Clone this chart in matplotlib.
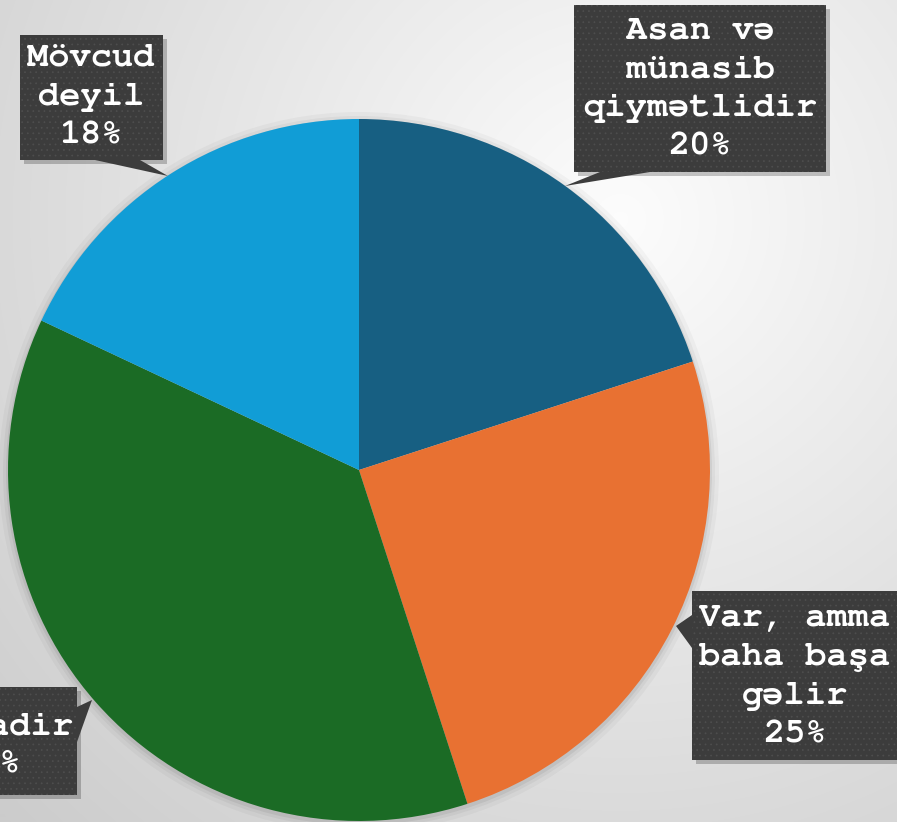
import matplotlib
matplotlib.use('Agg')

import numpy as np
import matplotlib.pyplot as plt
from matplotlib.patches import Rectangle, Polygon, Circle

# -------------------------
# Data
# -------------------------
labels = ["Asan və\nmünasib\nqiymətlidir", "Var, amma\nbaha başa\ngəlir", "Zəifadir", "Mövcud\ndeyil"]
shares = [20, 25, 37, 18]
colors = ["#175f82", "#e87132", "#1b6b25", "#119dd6"]

W, H = 897, 822

plt.rcParams['hatch.linewidth'] = 0.5

fig = plt.figure(figsize=(W / 100, H / 100), dpi=100)
ax = fig.add_axes([0, 0, 1, 1])

# background: light radial gradient
gx, gy = np.meshgrid(np.arange(W), np.arange(H))
dist = np.hypot(gx - 620, gy - 220) / 900
bg = np.clip(0.99 - 0.2 * dist, 0.8, 1)
ax.imshow(np.dstack([bg, bg, bg]), extent=[0, W, 0, H], origin='upper', zorder=0)


def Y(py):
    # screen pixel y -> data y
    return H - py


cx, cy, R = 359, Y(470), 351

# soft shadow around the pie
for k, a in [(9, 0.03), (5, 0.04), (2, 0.06)]:
    ax.add_patch(Circle((cx, cy - 2), R + k, color="black", alpha=a, lw=0, zorder=1))

ax.pie(shares, colors=colors, startangle=90, counterclock=False,
       center=(cx, cy), radius=R, frame=True,
       wedgeprops=dict(edgecolor="none", linewidth=0))
ax.set_xlim(0, W)
ax.set_ylim(0, H)
ax.set_aspect('equal')
ax.axis('off')

# -------------------------
# Callout boxes (pixel coords: x0, y0, x1, y1, pointer triangle)
# -------------------------
boxes = [
    (574, 5, 826, 172, [(565, 186), (600, 172), (650, 172)]),
    (692, 591, 910, 760, [(676, 626), (692, 615), (692, 648)]),
    (-160, 687, 77, 795, [(92, 700), (77, 707), (77, 742)]),
    (20, 35, 163, 160, [(168, 176), (95, 160), (140, 160)]),
]
text_pos = [(700, 89), (795, 677), (-11, 746), (91, 97)]
box_face = "#3c3c3c"
mono = ['FreeMono', 'Nimbus Mono PS', 'Courier New', 'Liberation Mono']

for (x0, y0, x1, y1, tri), (tx, ty), lab, val in zip(boxes, text_pos, labels, shares):
    # shadow
    ax.add_patch(Rectangle((x0 + 4, Y(y1) - 4), x1 - x0, y1 - y0,
                           facecolor="black", alpha=0.22, lw=0, zorder=4))
    ax.add_patch(Polygon([(px, Y(py)) for px, py in tri], closed=True,
                         facecolor=box_face, edgecolor="none", zorder=5))
    ax.add_patch(Rectangle((x0, Y(y1)), x1 - x0, y1 - y0,
                           facecolor=box_face, edgecolor="#4e4e4e", hatch="...",
                           lw=0, zorder=5))
    ax.text(tx, Y(ty), f"{lab}\n{val}%", ha="center", va="center",
            family=mono, fontweight="bold", fontsize=25.5,
            color="white", linespacing=1.45, zorder=6)

fig.savefig("out.png", dpi=100)
